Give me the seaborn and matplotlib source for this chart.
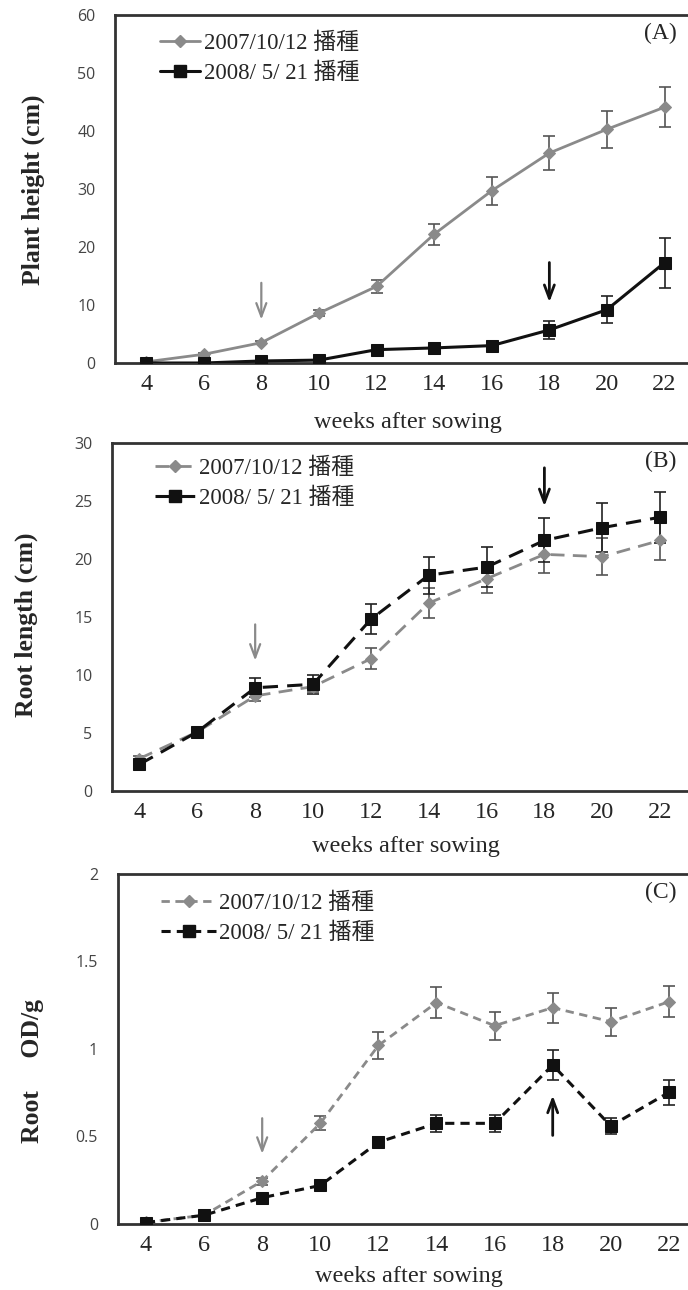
import numpy as np
import pandas as pd
import seaborn as sns
import matplotlib.pyplot as plt
from matplotlib.lines import Line2D

sns.set_theme(style="white")
plt.rcParams["font.family"] = ["Liberation Serif", "Noto Sans CJK TC"]

# data
weeks = [4, 6, 8, 10, 12, 14, 16, 18, 20, 22]
series_names = ["2007/10/12 播種", "2008/ 5/ 21 播種"]

height_2007 = [0.2, 1.5, 3.5, 8.6, 13.2, 22.2, 29.7, 36.2, 40.3, 44.1]
height_2007_err = [0.2, 0.3, 0.3, 0.5, 1.1, 1.8, 2.4, 3.0, 3.2, 3.5]
height_2008 = [0.0, 0.0, 0.35, 0.5, 2.3, 2.6, 3.0, 5.7, 9.2, 17.3]
height_2008_err = [0.1, 0.1, 0.2, 0.2, 0.5, 0.3, 0.4, 1.5, 2.3, 4.3]

root_2007 = [2.8, 5.1, 8.2, 9.0, 11.4, 16.2, 18.3, 20.4, 20.2, 21.6]
root_2007_err = [0.2, 0.3, 0.4, 0.5, 0.9, 1.3, 1.2, 1.6, 1.6, 1.7]
root_2008 = [2.3, 5.1, 8.9, 9.2, 14.8, 18.6, 19.3, 21.6, 22.7, 23.6]
root_2008_err = [0.2, 0.3, 0.8, 0.8, 1.3, 1.6, 1.7, 1.9, 2.1, 2.2]

od_2007 = [0.01, 0.05, 0.245, 0.575, 1.02, 1.265, 1.133, 1.236, 1.156, 1.27]
od_2007_err = [0.01, 0.01, 0.02, 0.04, 0.075, 0.09, 0.08, 0.085, 0.08, 0.09]
od_2008 = [0.008, 0.05, 0.15, 0.22, 0.467, 0.575, 0.575, 0.908, 0.56, 0.752]
od_2008_err = [0.01, 0.01, 0.015, 0.02, 0.03, 0.05, 0.05, 0.085, 0.045, 0.07]

# arrows: (x, y_start, y_end) for gray and black
arrows_A = [(8, 14.3, 7.0), (18, 17.8, 10.0)]
arrows_B = [(8, 14.6, 11.0), (18, 28.1, 24.3)]
arrows_C = [(8, 0.62, 0.385), (18, 0.49, 0.75)]

GRAY = "#8a8a8a"
BLACK = "#111111"

fig = plt.figure(figsize=(6.88, 12.9), dpi=100)

panels = [
    dict(rect=[115/688, 0.7186, 585/688, 0.2698], xlim=(2.92, 23.23), ylim=(0, 60),
         yticks=[0, 10, 20, 30, 40, 50, 60], ylabels=["0", "10", "20", "30", "40", "50", "60"],
         ylabel="Plant height (cm)", tag="(A)",
         data=(height_2007, height_2007_err, height_2008, height_2008_err),
         arrows=arrows_A, dashes=None, ylab_xy=(33, 190), leg_y=42, leg_x=160,
         hlen=1.75, xlabpad=12),
    dict(rect=[112/688, 0.3868, 588/688, 0.2698], xlim=(3.05, 23.38), ylim=(0, 30),
         yticks=[0, 5, 10, 15, 20, 25, 30], ylabels=["0", "5", "10", "15", "20", "25", "30"],
         ylabel="Root length (cm)", tag="(B)",
         data=(root_2007, root_2007_err, root_2008, root_2008_err),
         arrows=arrows_B, dashes=(5, 3), ylab_xy=(26, 625), leg_y=467, leg_x=155,
         hlen=1.75, xlabpad=9),
    dict(rect=[117.5/688, 0.0512, 582.5/688, 0.2713], xlim=(3.02, 23.07), ylim=(0, 2),
         yticks=[0, 0.5, 1, 1.5, 2], ylabels=["0", "0.5", "1", "1.5", "2"],
         ylabel="Root     OD/g", tag="(C)",
         data=(od_2007, od_2007_err, od_2008, od_2008_err),
         arrows=arrows_C, dashes=(3, 2), ylab_xy=(32, 1071), leg_y=902, leg_x=161,
         hlen=2.4, xlabpad=7),
]

for p in panels:
    ax = fig.add_axes(p["rect"])
    v1, e1, v2, e2 = p["data"]
    df = pd.DataFrame({
        "week": weeks * 2,
        "value": v1 + v2,
        "series": [series_names[0]] * len(weeks) + [series_names[1]] * len(weeks),
    })
    ls = "-" if p["dashes"] is None else (0, p["dashes"])
    # error bars
    ax.errorbar(weeks, v1, yerr=e1, fmt="none", ecolor="#555555", elinewidth=1.2,
                capsize=4, capthick=1.2, zorder=2)
    ax.errorbar(weeks, v2, yerr=e2, fmt="none", ecolor="#222222", elinewidth=1.2,
                capsize=4, capthick=1.2, zorder=2)
    sns.lineplot(data=df[df.series == series_names[0]], x="week", y="value", ax=ax,
                 color=GRAY, linewidth=2.0, linestyle=ls, marker="D", markersize=6,
                 markeredgecolor=GRAY, legend=False, zorder=3)
    sns.lineplot(data=df[df.series == series_names[1]], x="week", y="value", ax=ax,
                 color=BLACK, linewidth=2.2, linestyle=ls, marker="s", markersize=8,
                 markeredgecolor=BLACK, legend=False, zorder=4)

    # arrows
    (gx, gy0, gy1), (bx, by0, by1) = p["arrows"]
    ax.annotate("", xy=(gx, gy1), xytext=(gx, gy0),
                arrowprops=dict(arrowstyle="->,head_length=0.8,head_width=0.3",
                                color=GRAY, lw=1.6))
    ax.annotate("", xy=(bx, by1), xytext=(bx, by0),
                arrowprops=dict(arrowstyle="->,head_length=0.8,head_width=0.3",
                                color=BLACK, lw=2.0))

    ax.set_xlim(*p["xlim"])
    ax.set_ylim(*p["ylim"])
    ax.set_xticks(weeks)
    ax.set_xticklabels([str(w) for w in weeks], fontsize=17.5)
    ax.set_yticks(p["yticks"])
    ax.set_yticklabels(p["ylabels"], fontsize=11.5, color="#444444", fontfamily="Open Sans")
    ax.tick_params(axis="x", length=4, width=0.8, color="#555555", pad=4, direction="out")
    ax.tick_params(axis="y", length=5, width=0.8, color="#555555", pad=9, direction="out")
    ax.set_xlabel("weeks after sowing", fontsize=17.5, labelpad=p["xlabpad"])
    ax.set_ylabel("")
    for s in ax.spines.values():
        s.set_color("#333333")
        s.set_linewidth(2.0)
    ax.spines["right"].set_visible(False)

    fig.text(p["ylab_xy"][0] / 688, 1 - p["ylab_xy"][1] / 1290, p["ylabel"],
             rotation=90, ha="center", va="center", fontsize=18.5, fontweight="bold")

    # panel tag
    ax.text(0.933, 0.948, p["tag"], transform=ax.transAxes, fontsize=17,
            ha="center", va="center")

    # legend
    handles = [
        Line2D([], [], color=GRAY, lw=2.0, linestyle=ls, marker="D", markersize=6),
        Line2D([], [], color=BLACK, lw=2.2, linestyle=ls, marker="s", markersize=8),
    ]
    top_px = 1290 * (1 - p["rect"][1] - p["rect"][3])
    leg = ax.legend(handles, series_names, frameon=False, fontsize=16.5,
                    loc="upper left", handlelength=p["hlen"], handletextpad=0.15,
                    labelspacing=0.38, borderaxespad=0, borderpad=0,
                    bbox_to_anchor=((p["leg_x"] - p["rect"][0] * 688) / (p["rect"][2] * 688),
                                    1 - (p["leg_y"] - 9 - top_px) / (p["rect"][3] * 1290)))

fig.savefig("out.png", dpi=100)
